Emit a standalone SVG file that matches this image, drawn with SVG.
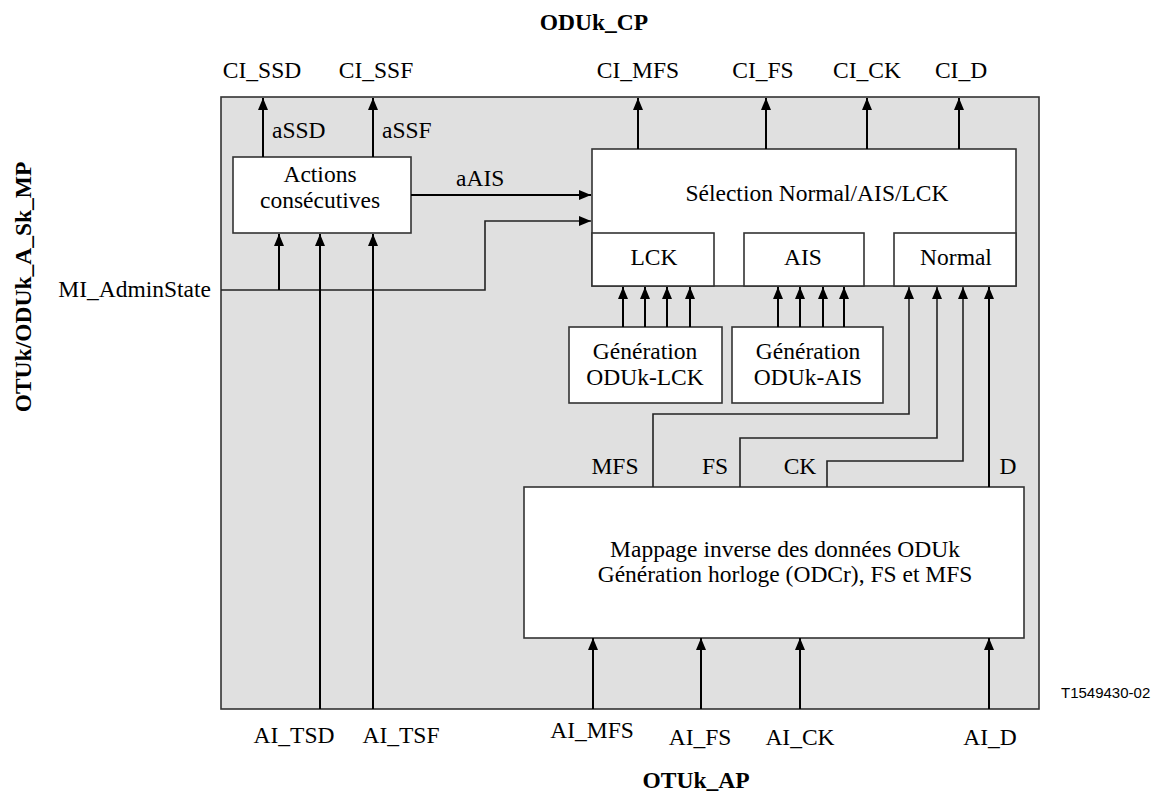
<svg xmlns="http://www.w3.org/2000/svg" width="1157" height="796" viewBox="0 0 1157 796">
<style>
text{font-family:"Liberation Serif","Times New Roman",serif;font-size:23.5px;fill:#000}
.b{font-weight:bold}
.m{text-anchor:middle}
.e{text-anchor:end}
.code{font-family:"Liberation Sans",Arial,sans-serif;font-size:15px}
.box{fill:#fff;stroke:#333;stroke-width:1.6}
.a{fill:none;stroke:#000;stroke-width:2;marker-end:url(#ah)}
.r{fill:none;stroke:#222;stroke-width:1.6}
.ra{fill:none;stroke:#222;stroke-width:1.6;marker-end:url(#ah)}
</style>
<defs>
<marker id="ah" markerUnits="userSpaceOnUse" markerWidth="12" markerHeight="10" refX="12" refY="5" orient="auto">
<path d="M0,0 L12,5 L0,10 z" fill="#000"/>
</marker>
</defs>
<rect width="1157" height="796" fill="#fff"/>
<g id="frame">
<rect x="221" y="97" width="818" height="612" fill="#e0e0e0" stroke="#333" stroke-width="1.6"/>
</g>
<g id="labels">
<text class="b m" x="594" y="30">ODUk_CP</text>
<text class="b m" x="696" y="788">OTUk_AP</text>
<text class="b m" transform="translate(31,287) rotate(-90)">OTUk/ODUk_A_Sk_MP</text>
<text class="m" x="262" y="78">CI_SSD</text>
<text class="m" x="376" y="78">CI_SSF</text>
<text class="m" x="638" y="78">CI_MFS</text>
<text class="m" x="763" y="78">CI_FS</text>
<text class="m" x="867" y="78">CI_CK</text>
<text class="m" x="961" y="78">CI_D</text>
<text x="272" y="138">aSSD</text>
<text x="382" y="138">aSSF</text>
<text x="456" y="186">aAIS</text>
<text class="e" x="211" y="297">MI_AdminState</text>
<text class="m" x="615" y="474">MFS</text>
<text class="m" x="715" y="474">FS</text>
<text class="m" x="800" y="474">CK</text>
<text class="m" x="1008" y="474">D</text>
<text class="m" x="294" y="743">AI_TSD</text>
<text class="m" x="401" y="743">AI_TSF</text>
<text class="m" x="592" y="738">AI_MFS</text>
<text class="m" x="700" y="745">AI_FS</text>
<text class="m" x="800" y="745">AI_CK</text>
<text class="m" x="990" y="745">AI_D</text>
<text class="code" x="1061" y="698">T1549430-02</text>
</g>
<g id="actions">
<rect class="box" x="233" y="157" width="178" height="76"/>
<text class="m" x="320" y="182">Actions</text>
<text class="m" x="320" y="208">consécutives</text>
</g>
<g id="selection">
<rect class="box" x="592" y="149" width="424" height="137"/>
<text class="m" x="817" y="201">Sélection Normal/AIS/LCK</text>
</g>
<g id="lck">
<rect class="box" x="592" y="233" width="122" height="53"/>
<text class="m" x="654" y="265">LCK</text>
</g>
<g id="ais">
<rect class="box" x="744" y="233" width="120" height="53"/>
<text class="m" x="803" y="265">AIS</text>
</g>
<g id="normal">
<rect class="box" x="894" y="233" width="122" height="53"/>
<text class="m" x="956" y="265">Normal</text>
</g>
<g id="gen-lck">
<rect class="box" x="569" y="327" width="153" height="76"/>
<text class="m" x="645" y="359">Génération</text>
<text class="m" x="645" y="385">ODUk-LCK</text>
</g>
<g id="gen-ais">
<rect class="box" x="732" y="327" width="151" height="76"/>
<text class="m" x="808" y="359">Génération</text>
<text class="m" x="808" y="385">ODUk-AIS</text>
</g>
<g id="mappage">
<rect class="box" x="524" y="487" width="500" height="151"/>
<text class="m" x="785" y="557">Mappage inverse des données ODUk</text>
<text class="m" x="785" y="582">Génération horloge (ODCr), FS et MFS</text>
</g>
<g id="connectors">
<path class="a" d="M263,157 V98"/>
<path class="a" d="M373,157 V98"/>
<path class="a" d="M638,149 V98"/>
<path class="a" d="M766,149 V98"/>
<path class="a" d="M867,149 V98"/>
<path class="a" d="M959,149 V98"/>
<path class="a" d="M411,195 H591"/>
<path class="r" d="M221,290 H279"/>
<path class="ra" d="M279,290 H485 V221 H591"/>
<path class="a" d="M279,290 V234"/>
<path class="a" d="M320,709 V234"/>
<path class="a" d="M373,709 V234"/>
<path class="a" d="M623,327 V287"/>
<path class="a" d="M645,327 V287"/>
<path class="a" d="M667,327 V287"/>
<path class="a" d="M690,327 V287"/>
<path class="a" d="M778,327 V287"/>
<path class="a" d="M800,327 V287"/>
<path class="a" d="M823,327 V287"/>
<path class="a" d="M844,327 V287"/>
<path class="ra" d="M653,487 V414 H909 V287"/>
<path class="ra" d="M740,487 V438 H937 V287"/>
<path class="ra" d="M827,487 V461 H963 V287"/>
<path class="a" d="M989,487 V287"/>
<path class="a" d="M593,709 V638"/>
<path class="a" d="M701,709 V638"/>
<path class="a" d="M800,709 V638"/>
<path class="a" d="M989,709 V638"/>
</g>
</svg>
